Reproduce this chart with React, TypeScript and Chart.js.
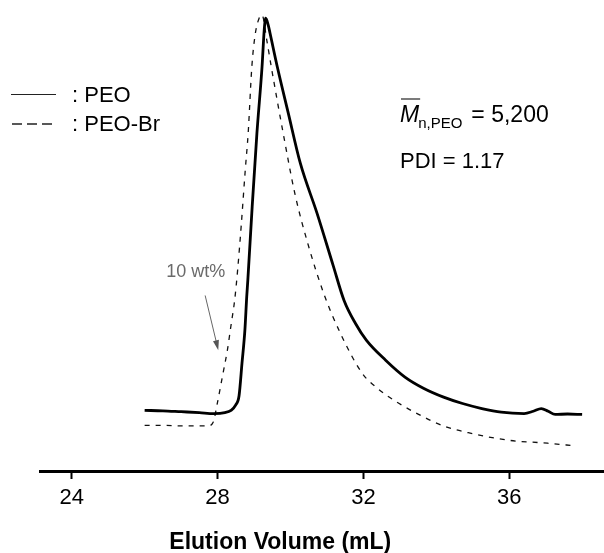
import React, { useEffect, useRef } from "react";
import { Chart, registerables } from "chart.js";

Chart.register(...registerables);

// Elution volume (mL) and detector response (a.u.)
const peoX = [26.0, 26.5, 27.0, 27.5, 27.9, 28.2, 28.37, 28.5, 28.59, 28.67, 28.75, 28.8, 28.83, 28.95, 29.08, 29.22, 29.28, 29.32, 29.39, 29.44, 29.64, 29.94, 30.27, 30.73, 31.17, 31.47, 31.78, 32.08, 32.61, 33.14, 33.66, 34.2, 34.72, 35.25, 35.78, 36.41, 36.66, 36.88, 37.07, 37.26, 37.6, 38.0];
const peoY = [13.3, 13.2, 13.0, 12.8, 12.6, 12.8, 13.3, 14.5, 16.5, 23.6, 30.9, 38.2, 41.8, 58.0, 74.1, 88.6, 96.7, 99.3, 97.8, 96.0, 88.6, 78.5, 67.5, 56.5, 45.1, 37.4, 32.4, 28.7, 24.3, 20.6, 18.1, 16.2, 14.8, 13.7, 12.9, 12.6, 13.1, 13.7, 13.1, 12.4, 12.5, 12.4];

const peoBrX = [26.0, 26.5, 27.0, 27.74, 27.88, 28.0, 28.14, 28.27, 28.37, 28.47, 28.55, 28.65, 28.76, 28.84, 28.94, 29.03, 29.14, 29.22, 29.35, 29.49, 29.8, 30.13, 30.49, 30.91, 31.37, 31.97, 32.39, 32.92, 33.45, 34.19, 34.93, 36.03, 37.05, 37.83];
const peoBrY = [10.0, 10.0, 9.9, 9.9, 10.7, 15.1, 21.0, 26.5, 32.0, 37.5, 44.0, 53.9, 66.0, 74.1, 88.6, 95.6, 99.3, 100.0, 94.5, 87.9, 74.1, 60.5, 49.5, 39.0, 30.2, 21.4, 18.1, 15.1, 12.7, 9.9, 8.3, 6.7, 6.1, 5.5];

const xTicks = [24, 28, 32, 36];
const xTitle = "Elution Volume (mL)";
const seriesNames = ["PEO", "PEO-Br"];
const mnValue = "= 5,200";
const pdiText = "PDI = 1.17";
const noteText = "10 wt%";

const FONT = "'Liberation Sans', Arial, Helvetica, sans-serif";

const decorPlugin = {
  id: "decor",
  afterDraw(chart: any) {
    const ctx = chart.ctx as CanvasRenderingContext2D;
    const xs = chart.scales.x;
    const ys = chart.scales.y;
    ctx.save();

    // axis title
    ctx.fillStyle = "#000";
    ctx.font = `bold 23px ${FONT}`;
    ctx.textAlign = "center";
    ctx.textBaseline = "alphabetic";
    ctx.fillText(xTitle, xs.getPixelForValue(29.72), 549);

    // legend
    ctx.textAlign = "left";
    ctx.textBaseline = "middle";
    ctx.font = `22px ${FONT}`;
    ctx.strokeStyle = "#222";
    ctx.lineWidth = 1.2;
    ctx.setLineDash([]);
    ctx.beginPath();
    ctx.moveTo(11, 94.5);
    ctx.lineTo(56, 94.5);
    ctx.stroke();
    ctx.fillText(": " + seriesNames[0], 72, 95.5);
    ctx.lineWidth = 1.4;
    ctx.setLineDash([10, 5]);
    ctx.beginPath();
    ctx.moveTo(12, 124);
    ctx.lineTo(56, 124);
    ctx.stroke();
    ctx.setLineDash([]);
    ctx.fillText(": " + seriesNames[1], 72, 125);

    // Mn annotation
    ctx.textBaseline = "alphabetic";
    ctx.font = `italic 23px ${FONT}`;
    ctx.fillText("M", 400, 122);
    const mW = ctx.measureText("M").width;
    ctx.lineWidth = 1.2;
    ctx.beginPath();
    ctx.moveTo(401, 99);
    ctx.lineTo(401 + mW, 99);
    ctx.stroke();
    ctx.font = `15px ${FONT}`;
    ctx.fillText("n,PEO", 400 + mW - 1, 128);
    const subW = ctx.measureText("n,PEO").width;
    ctx.font = `23px ${FONT}`;
    ctx.fillText(mnValue, 400 + mW + subW + 8, 122);
    ctx.font = `22px ${FONT}`;
    ctx.fillText(pdiText, 400, 168);

    // 10 wt% note with arrow
    ctx.fillStyle = "#6a6a6a";
    ctx.font = `18px ${FONT}`;
    ctx.textAlign = "center";
    ctx.textBaseline = "middle";
    ctx.fillText(noteText, xs.getPixelForValue(27.4), ys.getPixelForValue(43.6));
    const x1 = xs.getPixelForValue(27.66), y1 = ys.getPixelForValue(38.5);
    const x2 = xs.getPixelForValue(28.02), y2 = ys.getPixelForValue(26.5);
    const ang = Math.atan2(y2 - y1, x2 - x1);
    ctx.strokeStyle = "#666";
    ctx.lineWidth = 1;
    ctx.beginPath();
    ctx.moveTo(x1, y1);
    ctx.lineTo(x2 - 8 * Math.cos(ang), y2 - 8 * Math.sin(ang));
    ctx.stroke();
    ctx.fillStyle = "#555";
    ctx.beginPath();
    ctx.moveTo(x2, y2);
    ctx.lineTo(x2 - 10 * Math.cos(ang) + 3 * Math.sin(ang), y2 - 10 * Math.sin(ang) - 3 * Math.cos(ang));
    ctx.lineTo(x2 - 10 * Math.cos(ang) - 3 * Math.sin(ang), y2 - 10 * Math.sin(ang) + 3 * Math.cos(ang));
    ctx.closePath();
    ctx.fill();

    ctx.restore();
  },
};

export default function App() {
  const ref = useRef<HTMLCanvasElement>(null);
  useEffect(() => {
    const prev = document.body.style.margin;
    document.body.style.margin = "0";
    const canvas = ref.current;
    if (!canvas) return;
    const chart = new Chart(canvas, {
      type: "line",
      data: {
        datasets: [
          {
            label: seriesNames[0],
            data: peoX.map((x, i) => ({ x, y: peoY[i] })),
            borderColor: "#000",
            borderWidth: 2.8,
            pointRadius: 0,
            fill: false,
            cubicInterpolationMode: "monotone",
          },
          {
            label: seriesNames[1],
            data: peoBrX.map((x, i) => ({ x, y: peoBrY[i] })),
            borderColor: "#111",
            borderWidth: 1.3,
            borderDash: [5, 6],
            pointRadius: 0,
            fill: false,
            cubicInterpolationMode: "monotone",
          },
        ],
      },
      options: {
        responsive: false,
        animation: false,
        devicePixelRatio: 1,
        layout: { padding: { left: 40, right: 0, top: 0, bottom: 0 } },
        plugins: { legend: { display: false }, tooltip: { enabled: false } },
        scales: {
          x: {
            type: "linear",
            min: 23.13,
            max: 38.6,
            afterBuildTicks: (s: any) => {
              s.ticks = xTicks.map((v) => ({ value: v }));
            },
            afterFit: (s: any) => {
              s.height = 82;
            },
            grid: {
              drawOnChartArea: false,
              drawTicks: true,
              tickLength: 8,
              tickWidth: 2,
              tickColor: "#000",
            },
            border: { display: true, color: "#000", width: 3 },
            ticks: {
              color: "#000",
              font: { family: FONT, size: 22 },
              padding: 6,
              maxRotation: 0,
              autoSkip: false,
            },
          },
          y: { display: false, min: 0, max: 103.3 },
        },
      } as any,
      plugins: [decorPlugin],
    });
    return () => {
      chart.destroy();
      document.body.style.margin = prev;
    };
  }, []);
  return (
    <canvas
      ref={ref}
      width={604}
      height={553}
      style={{ display: "block", position: "absolute", left: 0, top: 0, width: 604, height: 553 }}
    />
  );
}
